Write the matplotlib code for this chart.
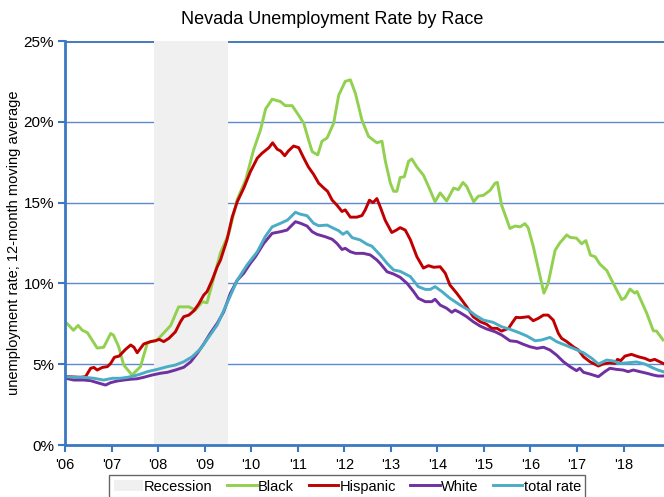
import numpy as np
import matplotlib
matplotlib.use('Agg')
import matplotlib.pyplot as plt

plt.rcParams['font.family'] = ['Liberation Sans', 'DejaVu Sans']

# years since Jan 2006 / rate in percent
black_t = [0.05, 0.18, 0.28, 0.37, 0.48, 0.69, 0.83, 0.98, 1.04, 1.15, 1.26, 1.44, 1.62, 1.77,
           1.98, 2.27, 2.44, 2.66, 2.80, 2.95, 3.05, 3.20, 3.34, 3.52, 3.70, 3.88, 4.05, 4.20,
           4.31, 4.45, 4.63, 4.73, 4.88, 5.02, 5.13, 5.23, 5.31, 5.43, 5.52, 5.63, 5.77, 5.88,
           6.02, 6.13, 6.24, 6.38, 6.52, 6.70, 6.81, 6.88, 6.99, 7.06, 7.13, 7.20, 7.29, 7.38,
           7.45, 7.56, 7.70, 7.81, 7.95, 8.06, 8.20, 8.35, 8.45, 8.55, 8.63, 8.78, 8.88, 8.99,
           9.13, 9.24, 9.29, 9.38, 9.56, 9.67, 9.78, 9.88, 9.95, 10.06, 10.21, 10.29, 10.38,
           10.53, 10.63, 10.78, 10.85, 10.99, 11.10, 11.19, 11.29, 11.39, 11.49, 11.64, 11.78,
           11.96, 12.03, 12.14, 12.24, 12.29, 12.50, 12.64, 12.71, 12.85]
black = [7.5, 7.1, 7.4, 7.1, 6.95, 6.0, 6.05, 6.9, 6.8, 6.1, 4.95, 4.33, 4.85, 6.33,
         6.5, 7.4, 8.55, 8.55, 8.35, 8.87, 8.8, 10.4, 11.9, 13.1, 15.2, 16.4, 18.25, 19.5,
         20.8, 21.4, 21.25, 21.0, 21.0, 20.4, 19.9, 18.9, 18.15, 17.95, 18.8, 19.0, 19.9, 21.65,
         22.5, 22.6, 21.75, 20.1, 19.1, 18.7, 18.8, 17.6, 16.2, 15.7, 15.7, 16.55, 16.6, 17.55,
         17.7, 17.2, 16.7, 16.0, 15.05, 15.6, 15.1, 15.9, 15.8, 16.25, 16.0, 15.05, 15.4, 15.45,
         15.75, 16.2, 16.25, 14.85, 13.4, 13.55, 13.5, 13.7, 13.45, 12.3, 10.4, 9.4, 10.0,
         12.05, 12.5, 13.0, 12.85, 12.8, 12.45, 12.65, 11.75, 11.65, 11.2, 10.8, 10.0,
         9.0, 9.1, 9.65, 9.4, 9.5, 8.15, 7.07, 7.05, 6.5]

hisp_t = [0.05, 0.33, 0.44, 0.55, 0.62, 0.69, 0.80, 0.91, 0.98, 1.06, 1.16, 1.30, 1.41, 1.48,
          1.55, 1.69, 1.84, 1.94, 2.02, 2.12, 2.23, 2.37, 2.48, 2.55, 2.66, 2.77, 2.87, 2.98,
          3.05, 3.16, 3.27, 3.34, 3.48, 3.59, 3.70, 3.84, 3.98, 4.13, 4.23, 4.38, 4.46, 4.56,
          4.63, 4.72, 4.80, 4.91, 5.02, 5.13, 5.23, 5.34, 5.45, 5.56, 5.64, 5.74, 5.84, 5.95,
          6.02, 6.13, 6.27, 6.38, 6.45, 6.54, 6.62, 6.70, 6.77, 6.88, 7.02, 7.12, 7.20, 7.31,
          7.42, 7.56, 7.70, 7.81, 7.92, 8.06, 8.17, 8.27, 8.42, 8.63, 8.77, 8.92, 9.06, 9.17,
          9.28, 9.38, 9.53, 9.60, 9.69, 9.78, 9.96, 10.06, 10.17, 10.28, 10.38, 10.49, 10.60,
          10.67, 10.78, 10.92, 11.03, 11.14, 11.28, 11.46, 11.56, 11.71, 11.82, 11.87, 11.94,
          12.03, 12.17, 12.32, 12.46, 12.57, 12.67, 12.85]
hisp = [4.23, 4.19, 4.23, 4.75, 4.8, 4.64, 4.8, 4.85, 5.05, 5.43, 5.5, 5.92, 6.19, 6.05,
        5.71, 6.25, 6.4, 6.45, 6.54, 6.4, 6.6, 7.0, 7.63, 7.94, 8.04, 8.31, 8.72, 9.28,
        9.49, 10.2, 11.03, 11.45, 12.7, 14.1, 15.05, 15.9, 16.9, 17.75, 18.05, 18.4, 18.7, 18.3,
        18.2, 17.9, 18.2, 18.5, 18.4, 17.75, 17.2, 16.75, 16.2, 15.9, 15.7, 15.15, 14.85, 14.45,
        14.55, 14.1, 14.1, 14.2, 14.55, 15.15, 15.0, 15.25, 14.75, 13.9, 13.15, 13.3, 13.45, 13.3,
        12.7, 11.65, 10.95, 11.1, 11.0, 11.03, 10.63, 9.9, 9.38, 8.56, 7.94, 7.63, 7.47, 7.22,
        7.22, 7.05, 7.22, 7.53, 7.9, 7.88, 7.94, 7.69, 7.84, 8.04, 8.04, 7.73, 6.91,
        6.6, 6.4, 6.08, 5.88, 5.46, 5.15, 4.89, 5.01, 5.09, 5.05, 5.3, 5.22,
        5.5, 5.61, 5.46, 5.36, 5.22, 5.3, 5.05]

white_t = [0.01, 0.19, 0.41, 0.55, 0.69, 0.87, 0.98, 1.12, 1.26, 1.41, 1.55, 1.69, 1.87, 2.05,
           2.20, 2.37, 2.55, 2.70, 2.84, 2.98, 3.12, 3.27, 3.41, 3.55, 3.70, 3.84, 3.98, 4.09,
           4.27, 4.45, 4.63, 4.77, 4.95, 5.06, 5.20, 5.31, 5.41, 5.59, 5.74, 5.84, 5.95, 6.02,
           6.13, 6.24, 6.41, 6.56, 6.70, 6.77, 6.92, 7.06, 7.20, 7.35, 7.49, 7.59, 7.74, 7.88,
           7.95, 8.06, 8.20, 8.31, 8.38, 8.49, 8.63, 8.77, 8.92, 9.06, 9.24, 9.38, 9.56, 9.71,
           9.85, 9.99, 10.14, 10.28, 10.42, 10.56, 10.71, 10.85, 10.99, 11.06, 11.14, 11.28,
           11.46, 11.60, 11.71, 11.85, 11.99, 12.10, 12.21, 12.35, 12.50, 12.64, 12.74, 12.85]
white = [4.13, 4.02, 4.02, 3.98, 3.86, 3.71, 3.86, 3.96, 4.02, 4.07, 4.1, 4.19, 4.33, 4.44,
         4.5, 4.64, 4.81, 5.15, 5.67, 6.25, 6.91, 7.53, 8.25, 9.38, 10.2, 10.63, 11.24, 11.65,
         12.48, 13.1, 13.2, 13.3, 13.82, 13.72, 13.55, 13.2, 13.04, 12.89, 12.73, 12.48, 12.1, 12.17,
         11.96, 11.86, 11.86, 11.76, 11.45, 11.24, 10.72, 10.58, 10.38, 10.0, 9.49, 9.08, 8.87, 8.87,
         9.02, 8.66, 8.46, 8.21, 8.35, 8.19, 7.94, 7.63, 7.36, 7.18, 7.01, 6.81, 6.45, 6.4,
         6.23, 6.08, 5.98, 6.05, 5.88, 5.57, 5.15, 4.85, 4.6, 4.75, 4.5, 4.39,
         4.23, 4.54, 4.75, 4.68, 4.64, 4.54, 4.64, 4.54, 4.44, 4.33, 4.27, 4.27]

total_t = [0.01, 0.19, 0.41, 0.62, 0.83, 1.02, 1.19, 1.34, 1.48, 1.62, 1.77, 1.98, 2.20, 2.37,
           2.55, 2.73, 2.91, 3.27, 3.48, 3.70, 3.91, 4.13, 4.30, 4.45, 4.63, 4.78, 4.95, 5.06,
           5.20, 5.34, 5.45, 5.63, 5.77, 5.88, 5.97, 6.06, 6.17, 6.34, 6.49, 6.59, 6.77, 6.92,
           7.06, 7.20, 7.42, 7.59, 7.74, 7.85, 7.95, 8.10, 8.27, 8.49, 8.67, 8.81, 8.99, 9.20,
           9.38, 9.56, 9.74, 9.92, 10.10, 10.24, 10.42, 10.56, 10.74, 10.92, 11.14, 11.32, 11.46,
           11.64, 11.78, 11.92, 12.10, 12.28, 12.46, 12.60, 12.74, 12.85]
total = [4.23, 4.19, 4.19, 4.13, 4.02, 4.13, 4.13, 4.19, 4.27, 4.39, 4.54, 4.68, 4.85, 4.95,
         5.15, 5.46, 5.95, 7.43, 8.77, 10.2, 11.14, 11.96, 12.89, 13.5, 13.72, 13.92, 14.4, 14.28,
         14.19, 13.72, 13.57, 13.61, 13.41, 13.26, 13.04, 13.2, 12.83, 12.69, 12.42, 12.31, 11.76, 11.24,
         10.83, 10.75, 10.42, 9.8, 9.63, 9.63, 9.8, 9.49, 9.08, 8.66, 8.35, 8.04, 7.73, 7.59,
         7.32, 7.16, 6.97, 6.75, 6.45, 6.5, 6.66, 6.4, 6.19, 5.98, 5.71, 5.36, 5.01,
         5.26, 5.2, 5.05, 5.09, 5.14, 5.01, 4.81, 4.64, 4.54]

recession = (2007.92, 2009.5)
year_ticks = list(range(2006, 2019))
year_labels = ["'%02d" % (y % 100) for y in year_ticks]
pct_ticks = [0, 5, 10, 15, 20, 25]

fig = plt.figure(figsize=(6.64, 4.97), dpi=100)
ax = fig.add_axes([0.098, 0.1046, 0.902, 0.8129])

axis_blue = '#3a78c2'
grid_blue = '#5b8ad0'

for v in pct_ticks[1:-1]:
    ax.axhline(v, color=grid_blue, lw=1.0, zorder=1)
ax.axhline(25, color='#4a7ebb', lw=2.2, zorder=1)

ax.axvspan(recession[0], recession[1], color='#f0f0f0', lw=0, zorder=2, label='Recession')

ax.plot(2006 + np.array(black_t), black, color='#92d050', lw=2.1, zorder=3, label='Black')
ax.plot(2006 + np.array(hisp_t), hisp, color='#c00000', lw=2.1, zorder=3, label='Hispanic')
ax.plot(2006 + np.array(white_t), white, color='#7030a0', lw=2.1, zorder=3, label='White')
ax.plot(2006 + np.array(total_t), total, color='#4bacc6', lw=2.1, zorder=3, label='total rate')

ax.set_xlim(2006, 2018.87)
ax.set_ylim(0, 25)
ax.set_xticks(year_ticks)
ax.set_xticklabels(year_labels, fontsize=10.5)
ax.set_yticks(pct_ticks)
ax.set_yticklabels(['%d%%' % v for v in pct_ticks], fontsize=11)

for s in ['top', 'right']:
    ax.spines[s].set_visible(False)
for s in ['left', 'bottom']:
    ax.spines[s].set_color(axis_blue)
    ax.spines[s].set_linewidth(2)
    ax.spines[s].set_zorder(4)
ax.tick_params(axis='both', colors=axis_blue, length=5, width=1.5, labelcolor='black')
ax.tick_params(axis='x', pad=4)
ax.tick_params(axis='y', pad=3)

ax.set_ylabel('unemployment rate; 12-month moving average', fontsize=10.5)
ax.yaxis.set_label_coords(-0.074, 0.5)
fig.suptitle('Nevada Unemployment Rate by Race', fontsize=13, y=0.978)

leg = fig.legend(loc='upper center', bbox_to_anchor=(0.523, 0.044), ncol=5, fontsize=10.5,
                 frameon=True, fancybox=False, handlelength=2.0, handletextpad=0.1,
                 columnspacing=1.0, borderpad=0.3, borderaxespad=0)
leg.get_frame().set_edgecolor('#404040')
leg.get_frame().set_linewidth(1.0)

fig.savefig('out.png', dpi=100)
